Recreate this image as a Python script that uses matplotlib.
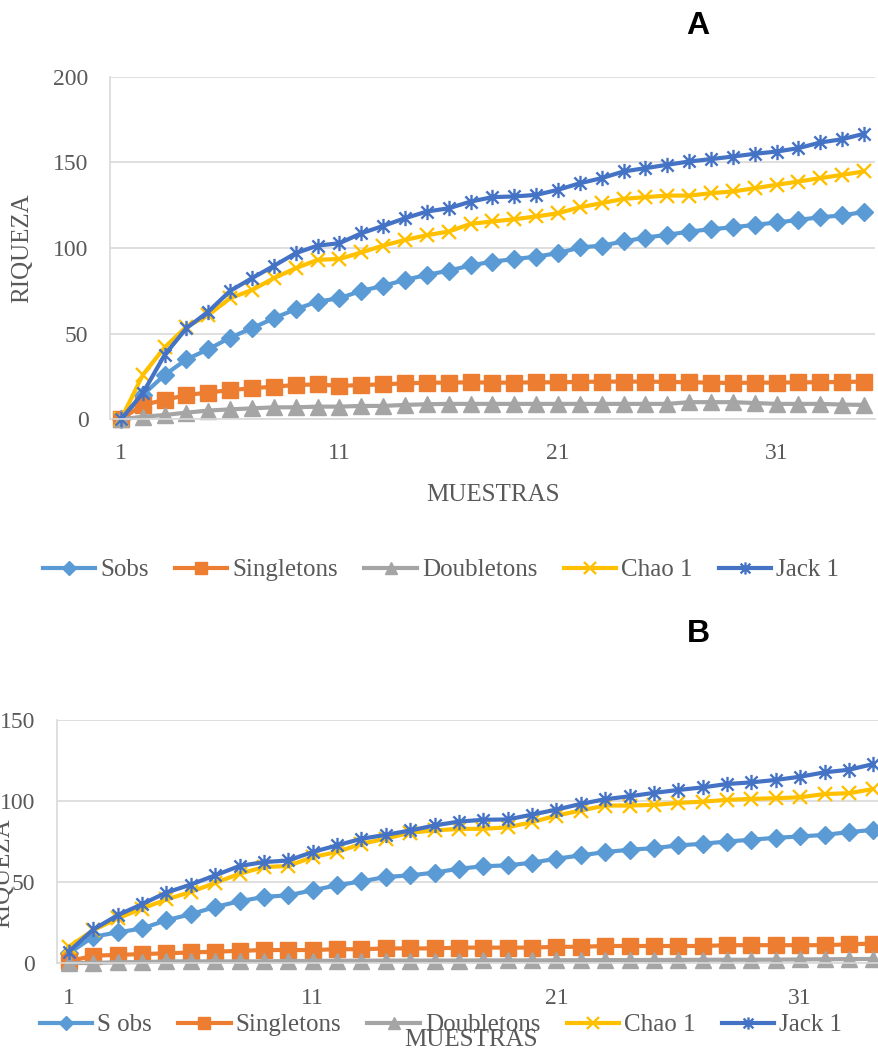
import matplotlib
matplotlib.use("Agg")
import matplotlib.pyplot as plt
from matplotlib.path import Path

# --- data: panel A (35 samples) ---
muestras_a = list(range(1, 36))
sobs_a = [0, 14.2, 25.9, 35, 40.9, 47.7, 53.2, 59, 64.3, 68.7, 70.7, 75, 77.9, 81.4, 84.3,
          86.8, 89.8, 92.1, 93.5, 95, 97, 100.3, 101.4, 103.8, 106.1, 107.7, 109.6, 111,
          112.1, 113.5, 114.9, 116.4, 118, 119, 121.1]
singletons_a = [0, 8.4, 11.3, 14.2, 15.6, 17.1, 18.1, 19.1, 20, 20.4, 19.5, 20, 20.4, 21, 21.4,
                21.4, 21.6, 21.4, 21.4, 21.6, 21.6, 21.8, 22, 22, 22, 21.8, 21.6, 21.4, 21.2,
                21.4, 21.4, 21.6, 21.6, 21.8, 22]
doubletons_a = [0, 1.5, 2.5, 3.9, 5.1, 5.8, 6.4, 7, 7, 7.4, 7.4, 7.8, 7.8, 8.4, 8.8, 9, 9, 9,
                9, 9, 9, 9, 9, 9, 9, 9, 10, 10, 10, 9.5, 9, 9, 9, 8.6, 8.4]
chao1_a = [0, 25.9, 42, 54.1, 60.9, 70.7, 75.5, 82.4, 88.2, 93.1, 93.6, 97.4, 101.4, 104.7,
           107.5, 109.6, 114.1, 115.5, 116.8, 118.4, 120.3, 123.8, 126.2, 128.7, 129.7, 130.6,
           130.6, 132, 133, 134.9, 136.9, 138.8, 140.8, 142.7, 144.7]
jack1_a = [0, 15.2, 37.6, 53.2, 62.9, 75, 82.4, 89.6, 97, 101.4, 102.8, 108.6, 112.9, 117.4,
           121.3, 123.2, 127.1, 129.7, 130.1, 131, 134, 137.8, 140.8, 144.7, 146.6, 148.6,
           150.5, 151.9, 153.4, 155, 156.3, 158.3, 161.6, 163.5, 166.7]

# --- data: panel B (34 samples) ---
muestras_b = list(range(1, 35))
sobs_b = [6, 16.2, 18.9, 21.3, 26.4, 30.1, 34.6, 38.1, 40.8, 41.8, 44.9, 48, 50.4, 53.1, 54.1,
          55.8, 58.2, 59.7, 60.3, 61.9, 64.4, 66.4, 68.5, 69.9, 70.9, 72.6, 73.6, 75, 76.1,
          77.3, 78.1, 79.1, 80.8, 82.2]
singletons_b = [1, 4.5, 5, 5.5, 6, 6.5, 7, 7.5, 8, 8, 8, 8.5, 8.5, 9, 9, 9, 9.5, 9.5, 9.5, 9.5,
                10, 10, 10.5, 10.5, 10.5, 10.5, 10.5, 11, 11, 11, 11, 11, 11.5, 12]
doubletons_b = [0, 0, 0.5, 0.5, 1, 1, 1, 1, 1, 1.2, 1.3, 1.4, 1.4, 1.5, 1.5, 1.5, 1.5, 1.6, 1.6,
                1.6, 1.7, 1.7, 1.8, 1.8, 1.9, 1.9, 2, 2, 2, 2.1, 2.2, 2.3, 2.4, 2.5]
chao1_b = [10, 20.3, 27.5, 33.6, 39.2, 43.9, 49.4, 55.1, 59.2, 59.9, 65.4, 68.5, 73.6, 76.7,
           80.5, 81.8, 82.8, 82.8, 83.8, 86.9, 91, 94.1, 97.2, 97.2, 97.6, 98.8, 99.6, 100.7,
           101.3, 101.7, 102.3, 104.3, 104.8, 107.4]
jack1_b = [7, 20.7, 29.5, 36.3, 43.5, 48.4, 54.1, 59.9, 62.3, 63.3, 68.5, 72.6, 76.7, 79.1,
           81.8, 84.9, 87.3, 88.4, 88.6, 91.6, 94.7, 98.2, 101.1, 102.9, 105, 106.8, 108.4,
           110.5, 111.5, 113, 115, 117.7, 119.3, 122.8]

x_ticks = [1, 11, 21, 31]

W, H = 879, 1050
GREY_TXT = "#595959"
GRID = "#d9d9d9"
SERIF = "Liberation Serif"

# Excel style asterisk marker (x + vertical bar)
star = Path([(0, -1), (0, 1), (-0.8, -0.8), (0.8, 0.8), (-0.8, 0.8), (0.8, -0.8)],
            [Path.MOVETO, Path.LINETO] * 3)

styles = [
    dict(color="#5B9BD5", marker="D", ms=9),
    dict(color="#ED7D31", marker="s", ms=11.5),
    dict(color="#A5A5A5", marker="^", ms=11.5),
    dict(color="#FFC000", marker="x", ms=10, mew=1.7),
    dict(color="#4472C4", marker=star, ms=11, mew=1.7),
]

fig = plt.figure(figsize=(W / 100, H / 100), dpi=100)


def add_panel(l, t, r, b, x, series, ymax, labels, title, title_y,
              ylab_xy, xlab_xy, leg_xy, xpad):
    ax = fig.add_axes([l / W, 1 - b / H, (r - l) / W, (b - t) / H])
    handles = []
    for y, st, lab in zip(series, styles, labels):
        h, = ax.plot(x, y, lw=3, label=lab, clip_on=False, **st)
        handles.append(h)
    ax.set_xlim(0.5, len(x) + 0.5)
    ax.set_ylim(0, ymax)
    ax.set_yticks(range(0, ymax + 1, 50))
    ax.set_xticks(x_ticks)
    ax.grid(axis="y", color=GRID, lw=1.2)
    ax.set_axisbelow(True)
    for s in ["top", "right"]:
        ax.spines[s].set_visible(False)
    for s in ["left", "bottom"]:
        ax.spines[s].set_color(GRID)
        ax.spines[s].set_linewidth(1.2)
    ax.tick_params(axis="y", length=0, pad=15.5, labelsize=17, labelcolor=GREY_TXT)
    ax.tick_params(axis="x", length=0, pad=xpad, labelsize=17, labelcolor=GREY_TXT)
    for t_ in ax.get_xticklabels() + ax.get_yticklabels():
        t_.set_fontfamily(SERIF)

    fig.text(698 / W, 1 - title_y / H, title, ha="center", va="center",
             fontsize=23, fontweight="bold", family="Liberation Sans")
    fig.text(ylab_xy[0] / W, 1 - ylab_xy[1] / H, "RIQUEZA", rotation=90,
             ha="center", va="center", fontsize=18, color=GREY_TXT, family=SERIF)
    fig.text(xlab_xy[0] / W, 1 - xlab_xy[1] / H, "MUESTRAS",
             ha="center", va="center", fontsize=18, color=GREY_TXT, family=SERIF)
    fig.legend(handles=handles, loc="center",
               bbox_to_anchor=(leg_xy[0] / W, 1 - leg_xy[1] / H), ncol=5,
               frameon=False, prop={"family": SERIF, "size": 18}, labelcolor=GREY_TXT,
               handlelength=2.1, handletextpad=0.2, columnspacing=1.05, borderpad=0,
               numpoints=1, markerscale=0.8)
    return ax


add_panel(110, 76.7, 875, 419.3, muestras_a,
          [sobs_a, singletons_a, doubletons_a, chao1_a, jack1_a], 200,
          ["Sobs", "Singletons", "Doubletons", "Chao 1", "Jack 1"],
          "A", 26, (22, 248), (492.5, 495), (441, 570), 17)

add_panel(56.7, 720, 885.5, 963, muestras_b,
          [sobs_b, singletons_b, doubletons_b, chao1_b, jack1_b], 150,
          ["S obs", "Singletons", "Doubletons", "Chao 1", "Jack 1"],
          "B", 634, (3, 873), (471, 1040), (441, 1025), 18)

fig.savefig("out.png", dpi=100)
